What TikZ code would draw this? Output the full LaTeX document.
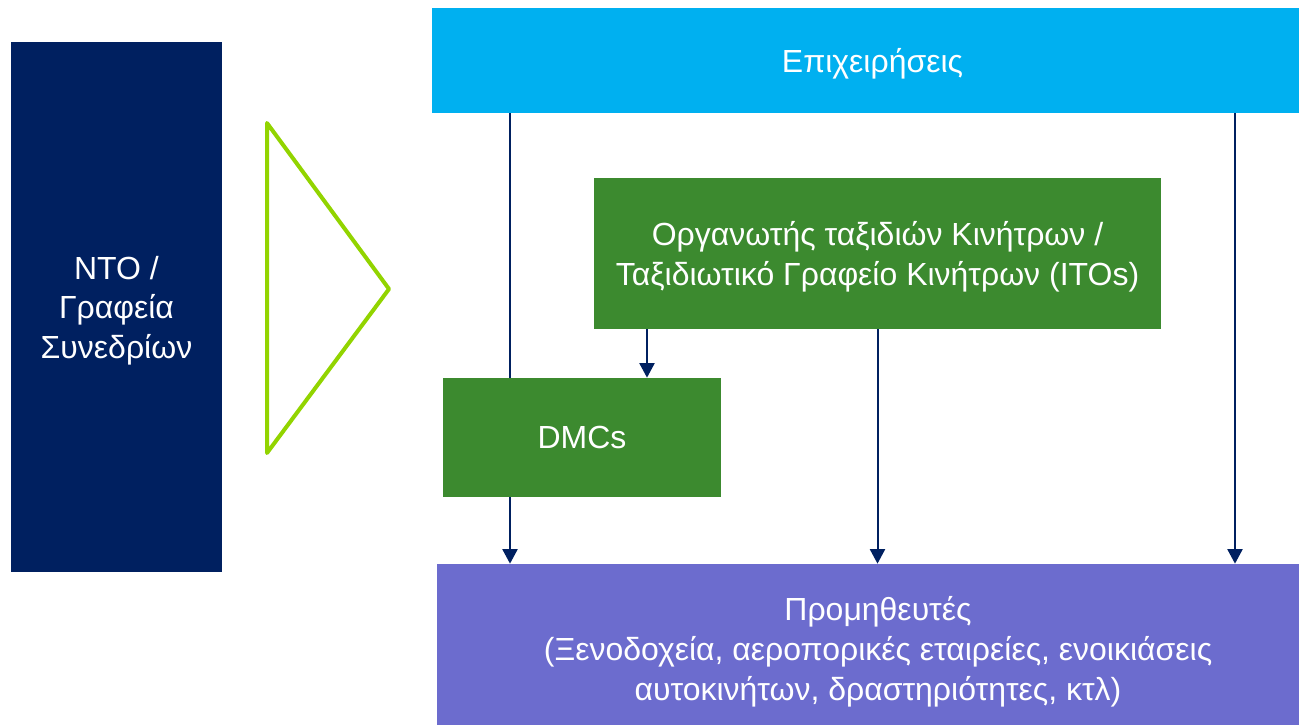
\documentclass[tikz,border=0pt]{standalone}
\usepackage{fontspec}
\setmainfont{Liberation Sans}
\usetikzlibrary{arrows.meta}

\definecolor{navy}{HTML}{002060}
\definecolor{skyblue}{HTML}{00B0F0}
\definecolor{leafgreen}{HTML}{3C8A2F}
\definecolor{lilac}{HTML}{6C6CCE}
\definecolor{lime}{HTML}{92D400}

% lowered, centred text block inside a box
\newcommand\boxtext[2]{\raisebox{-#1}[\height][\depth]{\begin{tabular}{@{}c@{}}#2\end{tabular}}}

\tikzset{
  box/.style={rectangle, inner sep=0pt, text=white, align=center,
    font=\fontsize{18.2}{22.6}\selectfont},
  flow/.style={navy, line width=0.04cm, -{Triangle[width=0.3cm,length=0.29cm]}}
}

\begin{document}
\begin{tikzpicture}[x=0.02cm, y=-0.02cm]
\useasboundingbox (0,0) rectangle (1299,725);
% left column
\node[box, fill=navy, minimum width=4.22cm, minimum height=10.6cm] (nto) at (116.5,307) {\boxtext{0.08cm}{NTO /\\Γραφεία\\Συνεδρίων}};
\draw[lime, line width=0.08cm, line join=round] (267,123) -- (389,289) -- (267,453) -- cycle;
% top and bottom bands
\node[box, fill=skyblue, minimum width=17.34cm, minimum height=2.1cm] (epix) at (865.5,60.5) {\hspace*{0.28cm}\boxtext{0.08cm}{Επιχειρήσεις}};
\node[box, fill=lilac, minimum width=17.24cm, minimum height=3.22cm] (prom) at (868,644.5) {\hspace*{0.4cm}\boxtext{0.16cm}{\fontsize{18.2}{23}\selectfont Προμηθευτές\\(Ξενοδοχεία, αεροπορικές εταιρείες, ενοικιάσεις\\αυτοκινήτων, δραστηριότητες, κτλ)}};
\coordinate (xa) at (510,0);
\coordinate (xb) at (647,0);
\coordinate (xc) at (1235,0);
\draw[flow] (epix.south -| xa) -- (prom.north -| xa);
\draw[flow] (epix.south -| xc) -- (prom.north -| xc);
% middle boxes
\node[box, fill=leafgreen, minimum width=11.34cm, minimum height=3.02cm] (ito) at (877.5,253.5) {\boxtext{0.08cm}{Οργανωτής ταξιδιών Κινήτρων /\\Ταξιδιωτικό Γραφείο Κινήτρων (ITOs)}};
\node[box, fill=leafgreen, minimum width=5.56cm, minimum height=2.38cm] (dmc) at (582,437.5) {DMCs};
\draw[flow] (ito.south -| xb) -- (dmc.north -| xb);
\draw[flow] (ito.south) -- (prom.north -| ito.south);
\end{tikzpicture}
\end{document}
